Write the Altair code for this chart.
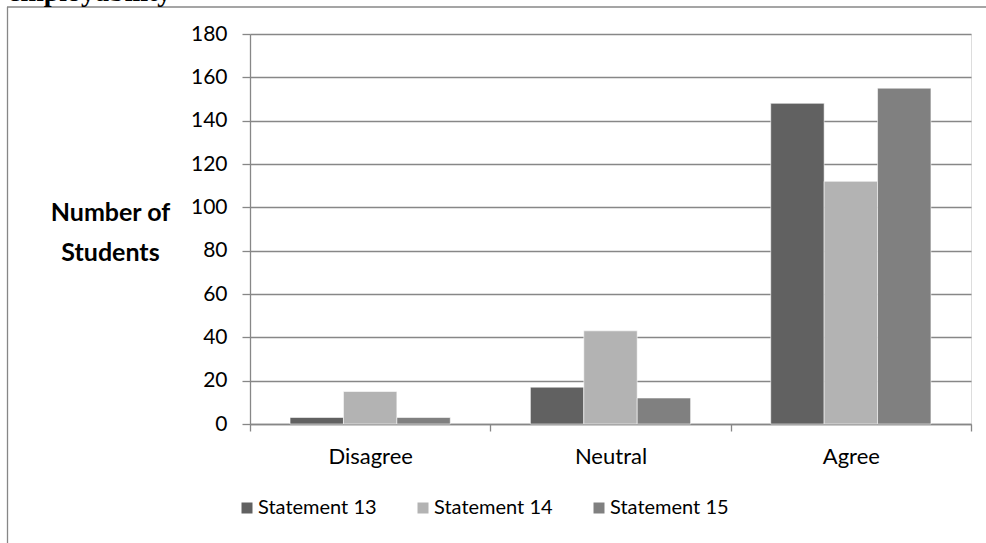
import altair as alt
import pandas as pd

# Survey responses per statement
categories = ["Disagree", "Neutral", "Agree"]
statements = ["Statement 13", "Statement 14", "Statement 15"]
statement_13 = [3, 17, 148]
statement_14 = [15, 43, 112]
statement_15 = [3, 12, 155]
y_ticks = [0, 20, 40, 60, 80, 100, 120, 140, 160, 180]

shades = ["#616161", "#b3b3b3", "#808080"]
LINE = "#878787"
FONT = "Lato"

rows = []
for name, values in zip(statements, [statement_13, statement_14, statement_15]):
    for cat, v in zip(categories, values):
        rows.append({"response": cat, "statement": name, "students": v})
df = pd.DataFrame(rows)

W, H = 721, 390

bars = alt.Chart(df).mark_bar(stroke="white", strokeWidth=0.8, strokeOpacity=0.7).encode(
    x=alt.X(
        "response:N",
        sort=categories,
        scale=alt.Scale(paddingInner=0, paddingOuter=0),
        axis=alt.Axis(
            title=None, labelAngle=0, tickBand="extent", tickSize=7,
            labelPadding=15, labelFont=FONT, labelFontSize=22, labelColor="black",
            domainColor=LINE, domainWidth=1.3, tickColor=LINE, tickWidth=1.3, grid=False,
        ),
    ),
    xOffset=alt.XOffset(
        "statement:N", sort=statements,
        scale=alt.Scale(paddingInner=0, paddingOuter=0.75),
    ),
    y=alt.Y(
        "students:Q",
        scale=alt.Scale(domain=[0, 180], nice=False),
        axis=alt.Axis(
            values=y_ticks, title=["Number of", "Students"], titleAngle=0,
            titleFont=FONT, titleFontSize=25, titleFontWeight="bold", titleColor="black",
            titleX=-140, titleY=178, titleAlign="center", titleBaseline="middle",
            titleLineHeight=40,
            labelFont=FONT, labelFontSize=21, labelColor="black", labelPadding=15,
            tickSize=8, tickColor=LINE, tickWidth=1.3,
            domainColor=LINE, domainWidth=1.3,
            grid=True, gridColor=LINE, gridWidth=1.3,
        ),
    ),
    color=alt.Color(
        "statement:N",
        sort=statements,
        scale=alt.Scale(domain=statements, range=shades),
        legend=alt.Legend(
            title=None, orient="none", legendX=-13, legendY=464, direction="horizontal",
            symbolType="square", symbolSize=121, symbolStrokeWidth=0, symbolOpacity=1,
            labelFont=FONT, labelFontSize=20, labelColor="black", labelOffset=1,
            columnPadding=36, padding=0,
        ),
    ),
)

one = pd.DataFrame({"k": [0]})

# Outer frame of the figure
frame_top = alt.Chart(one).mark_rule(color=LINE, strokeWidth=1.3).encode(
    x=alt.value(-243), x2=alt.value(740), y=alt.value(-27)
)
frame_left = alt.Chart(one).mark_rule(color=LINE, strokeWidth=1.3).encode(
    x=alt.value(-242.5), y=alt.value(-27), y2=alt.value(520)
)

# Heading of the surrounding section, running off the top edge
heading = alt.Chart(one).mark_text(
    text="employability", font="Liberation Serif", fontWeight="bold", fontSize=28,
    align="left", baseline="alphabetic", color="black",
).encode(x=alt.value(-242), y=alt.value(-33))

chart = alt.layer(frame_top, frame_left, heading, bars).properties(
    width=W, height=H,
    autosize=alt.AutoSizeParams(type="none"),
    padding={"left": 250, "top": 34, "right": 15, "bottom": 119},
).configure_view(stroke=None).configure(background="white")

chart.save("out.html", embed_options={"renderer": "svg", "actions": False})
